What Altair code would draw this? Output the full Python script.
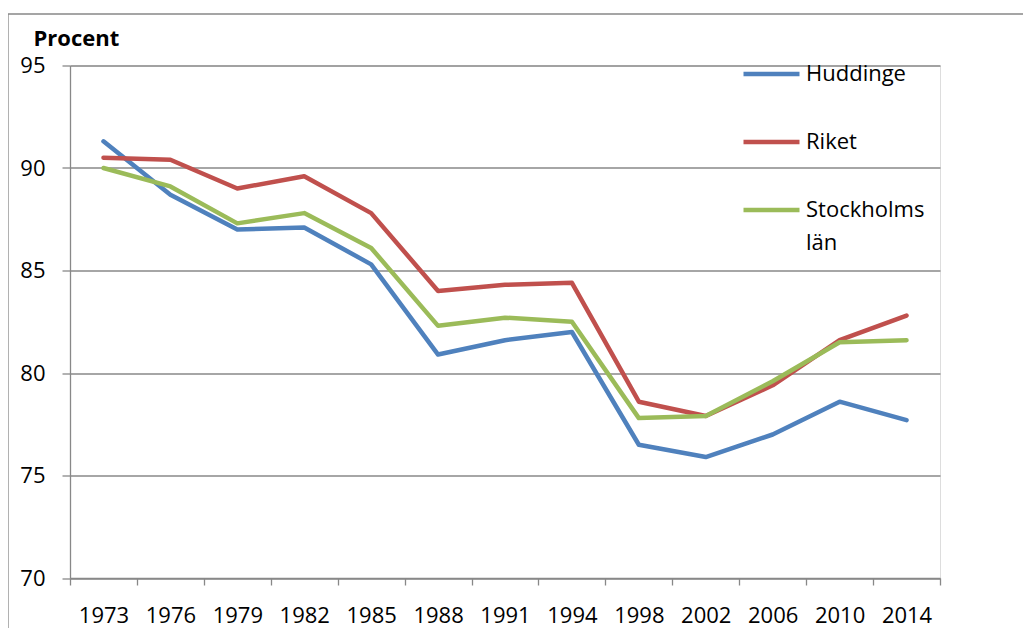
import altair as alt
import pandas as pd

years = ["1973", "1976", "1979", "1982", "1985", "1988", "1991", "1994",
         "1998", "2002", "2006", "2010", "2014"]
huddinge = [91.3, 88.7, 87.0, 87.1, 85.3, 80.9, 81.6, 82.0, 76.5, 75.9, 77.0, 78.6, 77.7]
riket = [90.5, 90.4, 89.0, 89.6, 87.8, 84.0, 84.3, 84.4, 78.6, 77.9, 79.4, 81.6, 82.8]
stockholm = [90.0, 89.1, 87.3, 87.8, 86.1, 82.3, 82.7, 82.5, 77.8, 77.9, 79.6, 81.5, 81.6]

series_names = ["Huddinge", "Riket", "Stockholms län"]
series_colors = ["#4F81BD", "#C0504D", "#9BBB59"]
y_ticks = [70, 75, 80, 85, 90, 95]

rows = []
for name, vals in zip(series_names, [huddinge, riket, stockholm]):
    for yr, v in zip(years, vals):
        rows.append({"År": yr, "Procent": v, "Serie": name})
df = pd.DataFrame(rows)

FONT = "Open Sans"
GRAY = "#888888"


def build(use_style):
    legend_args = dict(title=None, orient="none", legendX=671, legendY=-22,
                       symbolType="stroke", symbolSize=3136,
                       symbolStrokeWidth=4.5, labelFont=FONT,
                       labelFontSize=22, labelColor="black", labelOffset=4,
                       rowPadding=26, padding=0, labelLimit=300,
                       labelExpr="datum.label == 'Stockholms län' ? ['Stockholms', 'län'] : datum.label")
    lines = alt.Chart(df).mark_line(strokeWidth=4.5, strokeCap="round", strokeJoin="round").encode(
        x=alt.X("År:O", sort=years,
                axis=alt.Axis(title=None, labelAngle=0, tickBand="extent", tickSize=7,
                              tickColor=GRAY, tickWidth=1.3, domainColor=GRAY, domainWidth=1.3,
                              grid=False, labelFont=FONT, labelFontSize=22, labelColor="black",
                              labelPadding=20)),
        y=alt.Y("Procent:Q", scale=alt.Scale(domain=[70, 95], nice=False, zero=False),
                axis=alt.Axis(values=y_ticks, tickSize=8, tickColor=GRAY, tickWidth=1.3,
                              domainColor=GRAY, domainWidth=1.3, gridColor=GRAY, gridWidth=1.3,
                              gridOpacity=1, labelFont=FONT, labelFontSize=22, labelColor="black",
                              labelPadding=17, title="Procent", titleAngle=0, titleAlign="left",
                              titleBaseline="middle", titleX=-37, titleY=-27.5, titleFont=FONT,
                              titleFontSize=22, titleFontWeight="bold", titleColor="black")),
        color=alt.Color("Serie:N", sort=series_names,
                        scale=alt.Scale(domain=series_names, range=series_colors),
                        legend=alt.Legend(**legend_args)),
    )

    frame = alt.Chart(pd.DataFrame({"a": [0]})).mark_rect(
        fill=None, stroke=GRAY, strokeWidth=1.3
    ).encode(
        x=alt.value(-62), x2=alt.value(1000), y=alt.value(-51.5), y2=alt.value(700)
    )

    ch = alt.layer(frame, lines).properties(
        width=870, height=512.5,
        padding={"left": 62, "top": 57.5, "right": 83, "bottom": 50},
        autosize=alt.AutoSizeParams(type="none"),
    ).configure_view(stroke=None)
    if use_style:
        ch = ch.configure(style={"guide-label": {"lineHeight": 33}})
    ch.to_dict()
    return ch


try:
    chart = build(True)
except Exception:
    chart = build(False)

chart.save("out.html", embed_options={"renderer": "svg", "actions": False})
